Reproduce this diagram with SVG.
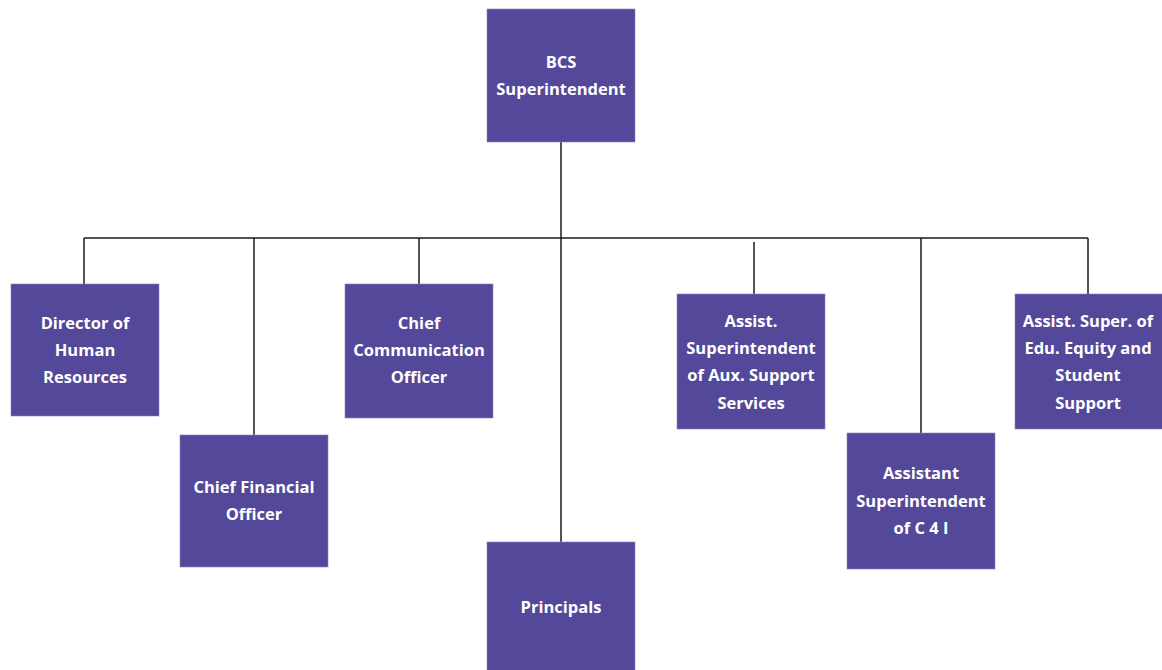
<svg xmlns="http://www.w3.org/2000/svg" width="1162" height="670" viewBox="0 0 1162 670">
<style>
.box{fill:#53489a;stroke:#8a82c0;stroke-width:0.6}
.t{font-family:"Open Sans","Liberation Sans",sans-serif;font-weight:bold;font-size:16.5px;fill:#ffffff;text-anchor:middle}
.c{stroke:#1a1a1a;stroke-width:1.5;fill:none}
</style>
<rect width="1162" height="670" fill="#ffffff"/>
<g id="connectors">
<path class="c" d="M561,141 V542"/>
<path class="c" d="M84,238 H1088"/>
<path class="c" d="M84,238 V284"/>
<path class="c" d="M254,238 V435"/>
<path class="c" d="M419,238 V284"/>
<path class="c" d="M754,242 V294"/>
<path class="c" d="M921,238 V433"/>
<path class="c" d="M1088,238 V294"/>
</g>
<g id="bcs">
<rect class="box" x="487" y="9" width="148" height="133"/>
<text class="t" x="561" y="68">BCS</text>
<text class="t" x="561" y="95">Superintendent</text>
</g>
<g id="director-hr">
<rect class="box" x="11" y="284" width="148" height="132"/>
<text class="t" x="85" y="329">Director of</text>
<text class="t" x="85" y="356">Human</text>
<text class="t" x="85" y="383">Resources</text>
</g>
<g id="cfo">
<rect class="box" x="180" y="435" width="148" height="132"/>
<text class="t" x="254" y="493">Chief Financial</text>
<text class="t" x="254" y="520">Officer</text>
</g>
<g id="cco">
<rect class="box" x="345" y="284" width="148" height="134"/>
<text class="t" x="419" y="329">Chief</text>
<text class="t" x="419" y="356">Communication</text>
<text class="t" x="419" y="383">Officer</text>
</g>
<g id="principals">
<rect class="box" x="487" y="542" width="148" height="140"/>
<text class="t" x="561" y="613">Principals</text>
</g>
<g id="aux">
<rect class="box" x="677" y="294" width="148" height="135"/>
<text class="t" x="751" y="327">Assist.</text>
<text class="t" x="751" y="354">Superintendent</text>
<text class="t" x="751" y="381">of Aux. Support</text>
<text class="t" x="751" y="409">Services</text>
</g>
<g id="c4i">
<rect class="box" x="847" y="433" width="148" height="136"/>
<text class="t" x="921" y="479">Assistant</text>
<text class="t" x="921" y="507">Superintendent</text>
<text class="t" x="921" y="534">of C 4 I</text>
</g>
<g id="edu">
<rect class="box" x="1015" y="294" width="148" height="135"/>
<text class="t" x="1088" y="327">Assist. Super. of</text>
<text class="t" x="1088" y="354">Edu. Equity and</text>
<text class="t" x="1088" y="381">Student</text>
<text class="t" x="1088" y="409">Support</text>
</g>
</svg>
